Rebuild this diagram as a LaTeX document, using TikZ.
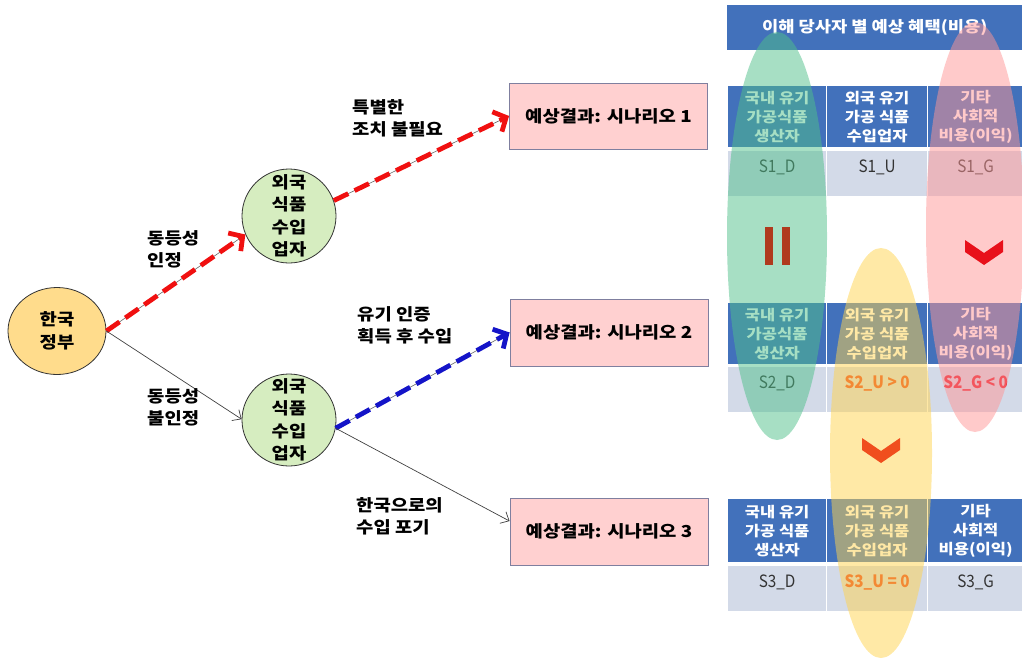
\documentclass[tikz,border=0pt]{standalone}
\usepackage{fontspec}
\setmainfont{Noto Sans CJK KR}[FakeStretch=1.14]
\newfontfamily\valfont{Noto Sans CJK KR}[FakeStretch=0.9]
\usetikzlibrary{shapes.geometric,arrows.meta,calc}
\definecolor{govfill}{HTML}{FFDC8C}
\definecolor{impfill}{HTML}{D6EDC0}
\definecolor{boxfill}{HTML}{FFD0D0}
\definecolor{boxline}{HTML}{7F7F9F}
\definecolor{hblue}{HTML}{4271BB}
\definecolor{vrow}{HTML}{D3DAE8}
\definecolor{elgreen}{HTML}{4FC08A}
\definecolor{elpink}{HTML}{FF9595}
\definecolor{elyellow}{HTML}{FFD34D}
\definecolor{arrred}{HTML}{F01010}
\definecolor{arrblue}{HTML}{1414C8}
\definecolor{barred}{HTML}{B03A1E}
\definecolor{chevred}{HTML}{E8101A}
\definecolor{chevorange}{HTML}{F04E1E}
\definecolor{valorange}{HTML}{E8401C}
\definecolor{valred}{HTML}{E81828}
\tikzset{
  govnode/.style={ellipse, draw=black!80, line width=0.8pt, fill=govfill, minimum width=98pt, minimum height=87pt, inner sep=0pt},
  impnode/.style={ellipse, draw=black!80, line width=0.8pt, fill=impfill, minimum width=94pt, minimum height=94pt, inner sep=0pt},
  ctext/.style={font=\fontsize{16.5}{22.5}\selectfont\bfseries, align=center, inner sep=0pt},
  scenbox/.style={rectangle, draw=boxline, line width=0.9pt, fill=boxfill, minimum width=198pt, minimum height=66pt, inner sep=0pt, font=\fontsize{16.5}{20}\selectfont\bfseries},
  elabel/.style={anchor=west, align=left, inner sep=0pt, font=\fontsize{16.5}{22}\selectfont\bfseries},
  thinarrow/.style={draw=black!75, line width=0.7pt, -{Straight Barb[length=7pt,width=13pt,line width=0.7pt]}},
  underline/.style={draw=black!60, line width=0.6pt},
  dasharrow/.style={line width=4.8pt, dash pattern=on 16pt off 7pt, -{Straight Barb[length=10pt,width=22pt,line width=4.8pt]}},
  titlecell/.style={rectangle, fill=hblue, anchor=north west, minimum width=295pt, minimum height=45pt, inner sep=0pt, text=white, font=\fontsize{15.5}{19}\selectfont\bfseries},
  hcell/.style={rectangle, fill=hblue, draw=white, line width=1.2pt, anchor=north west, minimum height=62pt, inner sep=0pt, text=white, align=center, font=\fontsize{14.5}{19}\selectfont\bfseries},
  vcell/.style={rectangle, fill=vrow, draw=white, line width=1.2pt, anchor=north west, minimum height=46pt, inner sep=0pt},
  vtext/.style={inner sep=0pt, yshift=6pt, text=black!80, font=\valfont\fontsize{17}{19}\selectfont},
  vbold/.style={vtext, font=\valfont\fontsize{17}{19}\selectfont\bfseries}
}
\begin{document}
\begin{tikzpicture}[x=1pt,y=-1pt]
\useasboundingbox (0,0) rectangle (1022,659);

% left tree nodes
\node[govnode, label={[ctext]center:한국\\정부}] (gov) at (57,331) {};
\node[impnode, label={[ctext]center:외국\\식품\\수입\\업자}] (imp1) at (289,216) {};
\node[impnode, minimum height=92pt, label={[ctext]center:외국\\식품\\수입\\업자}] (imp2) at (289,420) {};
\node[scenbox] (box1) at (608.5,116) {예상결과: 시나리오 1};
\node[scenbox, minimum height=67pt] (box2) at (609,332.5) {예상결과: 시나리오 2};
\node[scenbox, minimum height=67pt] (box3) at (609,531.5) {예상결과: 시나리오 3};

% connectors
\draw[underline] (gov.east) -- (imp1.203);
\draw[dasharrow, arrred] (gov.east) -- (imp1.203);
\draw[thinarrow] (gov.east) -- (imp2.179);
\draw[underline] (imp1.19) -- (box1.west);
\draw[dasharrow, arrred] (imp1.19) -- (box1.west);
\draw[underline] (imp2.-10) -- (box2.west);
\draw[dasharrow, arrblue] (imp2.-10) -- (box2.west);
\draw[thinarrow] (imp2.-10) -- (box3.174);

% edge labels
\node[elabel] (l1) at (147,249) {동등성\\인정};
\node[elabel] (l2) at (147,407) {동등성\\불인정};
\node[elabel] (l3) at (352,118) {특별한\\조치 불필요};
\node[elabel] (l4) at (357,325) {유기 인증\\획득 후 수입};
\node[elabel] (l5) at (356,516) {한국으로의\\수입 포기};

% right table
\node[titlecell] (title) at (727,5) {이해 당사자 별 예상 혜택(비용)};

\node[hcell, minimum width=99pt] (h1a) at (727,85) {국내 유기\\가공식품\\생산자};
\node[hcell, minimum width=101pt] (h1b) at (826,85) {외국 유기\\가공 식품\\수입업자};
\node[hcell, minimum width=96pt] (h1c) at (927,85) {기타\\사회적\\비용(이익)};
\node[vcell, minimum width=99pt, label={[vtext]center:S1\_D}] (v1a) at (727,150) {};
\node[vcell, minimum width=101pt, label={[vtext]center:S1\_U}] (v1b) at (826,150) {};
\node[vcell, minimum width=96pt, label={[vtext]center:S1\_G}] (v1c) at (927,150) {};

\node[hcell, minimum width=99pt] (h2a) at (727,302) {국내 유기\\가공식품\\생산자};
\node[hcell, minimum width=101pt] (h2b) at (826,302) {외국 유기\\가공 식품\\수입업자};
\node[hcell, minimum width=96pt] (h2c) at (927,302) {기타\\사회적\\비용(이익)};
\node[vcell, minimum width=99pt, label={[vtext]center:S2\_D}] (v2a) at (727,366) {};
\node[vcell, minimum width=101pt, label={[vbold, text=valorange]center:S2\_U > 0}] (v2b) at (826,366) {};
\node[vcell, minimum width=96pt, label={[vbold, text=valred]center:S2\_G < 0}] (v2c) at (927,366) {};

\node[hcell, minimum width=99pt, minimum height=64pt] (h3a) at (727,498) {국내 유기\\가공 식품\\생산자};
\node[hcell, minimum width=101pt, minimum height=64pt] (h3b) at (826,498) {외국 유기\\가공 식품\\수입업자};
\node[hcell, minimum width=96pt, minimum height=64pt] (h3c) at (927,498) {기타\\사회적\\비용(이익)};
\node[vcell, minimum width=99pt, label={[vtext]center:S3\_D}] (v3a) at (727,565) {};
\node[vcell, minimum width=101pt, label={[vbold, text=valorange]center:S3\_U = 0}] (v3b) at (826,565) {};
\node[vcell, minimum width=96pt, label={[vtext]center:S3\_G}] (v3c) at (927,565) {};

% translucent highlight ellipses
\fill[elgreen, opacity=0.5] (777,236) ellipse [x radius=50, y radius=204];
\fill[elpink, opacity=0.5] (975,227) ellipse [x radius=49, y radius=205];
\fill[elyellow, opacity=0.5] (881,453) ellipse [x radius=51, y radius=205];

% symbols
\fill[barred] (765,227) rectangle (773,265);
\fill[barred] (782,227) rectangle (790,265);
\fill[chevred] (965,240) -- (984,253) -- (1003,240) -- (1003,252) -- (984,265) -- (965,252) -- cycle;
\fill[chevorange] (862,438) -- (881,451) -- (900,438) -- (900,450) -- (881,463) -- (862,450) -- cycle;
\end{tikzpicture}
\end{document}
